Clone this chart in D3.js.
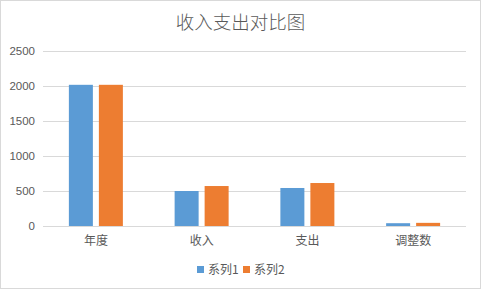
<!DOCTYPE html>
<html>
<head>
<meta charset="utf-8">
<script src="https://cdn.jsdelivr.net/npm/d3@7"></script>
<style>
  body { margin: 0; background: #fff; }
  text { font-family: "Noto Sans CJK SC", "Microsoft YaHei", sans-serif; fill: #595959; }
</style>
</head>
<body>
<script>
// Chart data
var categories = ["年度", "收入", "支出", "调整数"];
var seriesNames = ["系列1", "系列2"];
var series1 = [2017, 500, 543, 40];
var series2 = [2017, 571, 614, 45];
var yTicks = [0, 500, 1000, 1500, 2000, 2500];
var colors = ["#5b9bd5", "#ed7d31"];

var W = 481, H = 289;
var margin = {top: 51, right: 15, bottom: 63, left: 43};
var width = W - margin.left - margin.right;
var height = H - margin.top - margin.bottom;

var svg = d3.select("body").append("svg")
    .attr("width", W)
    .attr("height", H);

// Outer border
svg.append("rect")
    .attr("x", 0.5).attr("y", 0.5)
    .attr("width", W - 1).attr("height", H - 1)
    .attr("fill", "#fff")
    .attr("stroke", "#d9d9d9");

// Title
svg.append("text")
    .attr("x", W / 2)
    .attr("y", 29)
    .attr("text-anchor", "middle")
    .style("font-size", "18.5px")
    .style("font-weight", "300")
    .text("收入支出对比图");

var g = svg.append("g")
    .attr("transform", "translate(" + margin.left + "," + margin.top + ")");

var x0 = d3.scaleBand()
    .domain(categories)
    .range([0, width]);

var x1 = d3.scaleBand()
    .domain(seriesNames)
    .range([0, 54])
    .paddingInner(0.2);

var y = d3.scaleLinear()
    .domain([0, 2500])
    .range([height, 0]);

// Gridlines
g.append("g")
    .selectAll("line")
    .data(yTicks)
    .enter()
    .append("line")
    .attr("x1", 0)
    .attr("x2", width)
    .attr("y1", function(d) { return Math.round(y(d)) + 0.5; })
    .attr("y2", function(d) { return Math.round(y(d)) + 0.5; })
    .attr("stroke", "#d9d9d9");

// Y axis labels
var yAxis = d3.axisLeft(y)
    .tickValues(yTicks)
    .tickFormat(d3.format("d"))
    .tickSize(0)
    .tickPadding(8);
var yg = g.append("g").call(yAxis);
yg.select(".domain").remove();
yg.selectAll("text")
    .style("font-size", "11.5px")
    .style("fill", "#595959")
    .style("font-family", "Liberation Sans, Arial, sans-serif");

// Bars
var groups = g.selectAll(".cat")
    .data(categories)
    .enter()
    .append("g")
    .attr("transform", function(d) {
      return "translate(" + (x0(d) + x0.bandwidth() / 2 - 27) + ",0)";
    });

groups.selectAll("rect")
    .data(function(d, i) {
      return [{name: seriesNames[0], value: series1[i]}, {name: seriesNames[1], value: series2[i]}];
    })
    .enter()
    .append("rect")
    .attr("x", function(d) { return x1(d.name); })
    .attr("y", function(d) { return y(d.value); })
    .attr("width", x1.bandwidth())
    .attr("height", function(d) { return height - y(d.value); })
    .attr("fill", function(d, i) { return colors[i]; });

// X axis labels
var xAxis = d3.axisBottom(x0).tickSize(0).tickPadding(10);
var xg = g.append("g")
    .attr("transform", "translate(0," + height + ")")
    .call(xAxis);
xg.select(".domain").remove();
xg.selectAll("text")
    .style("font-size", "12px")
    .style("fill", "#595959")
    .style("font-family", "Noto Sans CJK SC, sans-serif");

// Legend
var legend = svg.append("g")
    .attr("transform", "translate(197,266)");
seriesNames.forEach(function(name, i) {
  var lx = i * 46;
  legend.append("rect")
    .attr("x", lx).attr("y", 0)
    .attr("width", 7).attr("height", 7)
    .attr("fill", colors[i]);
  legend.append("text")
    .attr("x", lx + 11)
    .attr("y", 8)
    .style("font-size", "12px")
    .text(name);
});
</script>
</body>
</html>
